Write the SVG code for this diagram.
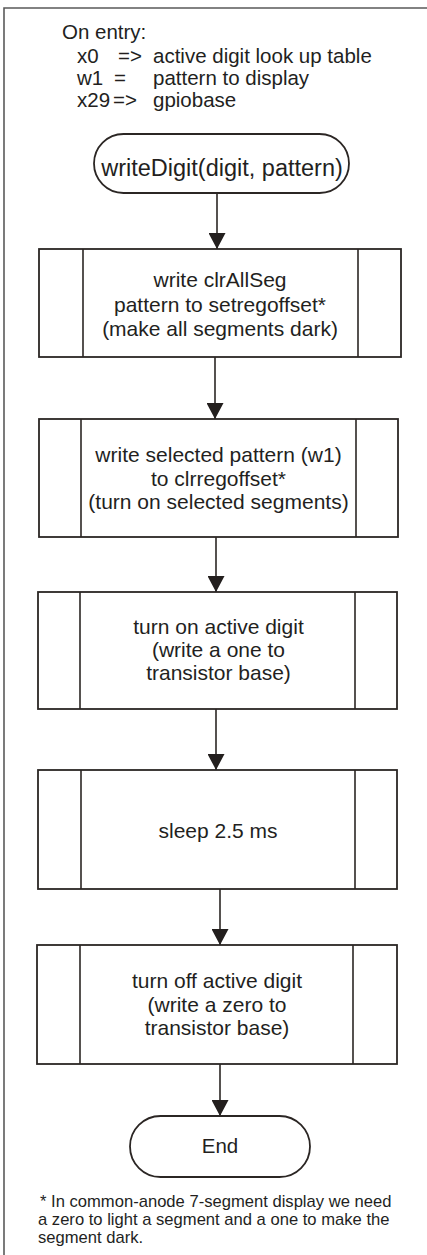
<svg xmlns="http://www.w3.org/2000/svg" width="427" height="1255" viewBox="0 0 427 1255">
  <style>
    .frame { stroke: #5a5a5a; stroke-width: 1.6; fill: none; }
    .shape { fill: #ffffff; stroke: #2b2624; stroke-width: 1.8; }
    .bar { stroke: #2b2624; stroke-width: 1.6; }
    .flow { stroke: #2b2624; stroke-width: 1.6; fill: none; }
    text { font-family: "Liberation Sans", Arial, sans-serif; fill: #231f1e; }
    .hdr { font-size: 20.5px; }
    .lbl { font-size: 21px; text-anchor: middle; }
    .term { font-size: 23.5px; text-anchor: middle; }
    .note { font-size: 16.6px; }
  </style>
  <defs>
    <marker id="ah" viewBox="0 0 16 17" refX="16" refY="8.5" markerWidth="16" markerHeight="17" orient="auto" markerUnits="userSpaceOnUse">
      <path d="M0,0 L16,8.5 L0,17 z" fill="#231f1e"/>
    </marker>
  </defs>

  <rect width="427" height="1255" fill="#ffffff"/>
  <!-- page frame: top and left rules -->
  <path class="frame" d="M4,1255 V8 H427"/>

  <!-- entry conditions -->
  <g id="entry">
    <text class="hdr" x="62" y="39">On entry:</text>
    <text class="hdr" x="77" y="63">x0</text>
    <text class="hdr" x="118" y="63">=&gt;</text>
    <text class="hdr" x="153" y="63">active digit look up table</text>
    <text class="hdr" x="77" y="85">w1</text>
    <text class="hdr" x="114" y="85">=</text>
    <text class="hdr" x="153" y="85">pattern to display</text>
    <text class="hdr" x="77" y="107">x29</text>
    <text class="hdr" x="113" y="107">=&gt;</text>
    <text class="hdr" x="153" y="107">gpiobase</text>
  </g>

  <!-- connectors -->
  <g id="connectors">
    <line class="flow" x1="217" y1="193" x2="217" y2="249" marker-end="url(#ah)"/>
    <line class="flow" x1="215" y1="357" x2="215" y2="419" marker-end="url(#ah)"/>
    <line class="flow" x1="216" y1="537" x2="216" y2="592" marker-end="url(#ah)"/>
    <line class="flow" x1="216" y1="709" x2="216" y2="770" marker-end="url(#ah)"/>
    <line class="flow" x1="220" y1="889" x2="220" y2="945" marker-end="url(#ah)"/>
    <line class="flow" x1="220" y1="1064" x2="220" y2="1116" marker-end="url(#ah)"/>
  </g>

  <g id="start">
    <rect class="shape" x="94" y="134" width="255" height="59" rx="29.5" ry="29.5"/>
    <text class="term" x="222" y="176">writeDigit(digit, pattern)</text>
  </g>

  <g id="clearAll">
    <rect class="shape" x="39" y="249" width="362" height="108"/>
    <line class="bar" x1="83" y1="249" x2="83" y2="357"/>
    <line class="bar" x1="358" y1="249" x2="358" y2="357"/>
    <text class="lbl" x="220" y="287">write clrAllSeg</text>
    <text class="lbl" x="220" y="312">pattern to setregoffset*</text>
    <text class="lbl" x="220" y="336">(make all segments dark)</text>
  </g>

  <g id="writePattern">
    <rect class="shape" x="39" y="419" width="359" height="118"/>
    <line class="bar" x1="81" y1="419" x2="81" y2="537"/>
    <line class="bar" x1="356" y1="419" x2="356" y2="537"/>
    <text class="lbl" x="218.5" y="462">write selected pattern (w1)</text>
    <text class="lbl" x="218.5" y="485.5">to clrregoffset*</text>
    <text class="lbl" x="218.5" y="509">(turn on selected segments)</text>
  </g>

  <g id="digitOn">
    <rect class="shape" x="38" y="592" width="359" height="117"/>
    <line class="bar" x1="80" y1="592" x2="80" y2="709"/>
    <line class="bar" x1="355" y1="592" x2="355" y2="709"/>
    <text class="lbl" x="218.5" y="634">turn on active digit</text>
    <text class="lbl" x="218.5" y="657">(write a one to</text>
    <text class="lbl" x="218.5" y="680">transistor base)</text>
  </g>

  <g id="sleep">
    <rect class="shape" x="38" y="770" width="359" height="119"/>
    <line class="bar" x1="81" y1="770" x2="81" y2="889"/>
    <line class="bar" x1="355" y1="770" x2="355" y2="889"/>
    <text class="lbl" x="218" y="838">sleep 2.5 ms</text>
  </g>

  <g id="digitOff">
    <rect class="shape" x="37" y="945" width="360" height="119"/>
    <line class="bar" x1="80" y1="945" x2="80" y2="1064"/>
    <line class="bar" x1="353" y1="945" x2="353" y2="1064"/>
    <text class="lbl" x="217" y="988">turn off active digit</text>
    <text class="lbl" x="217" y="1012">(write a zero to</text>
    <text class="lbl" x="217" y="1035">transistor base)</text>
  </g>

  <g id="end">
    <rect class="shape" x="130" y="1116" width="180" height="61" rx="30.5" ry="30.5"/>
    <text class="term" x="220" y="1153" style="font-size:20.5px">End</text>
  </g>

  <!-- footnote -->
  <g id="footnote">
    <text class="note" x="40" y="1207">* In common-anode 7-segment display we need</text>
    <text class="note" x="38" y="1225">a zero to light a segment and a one to make the</text>
    <text class="note" x="38" y="1243">segment dark.</text>
  </g>
</svg>
